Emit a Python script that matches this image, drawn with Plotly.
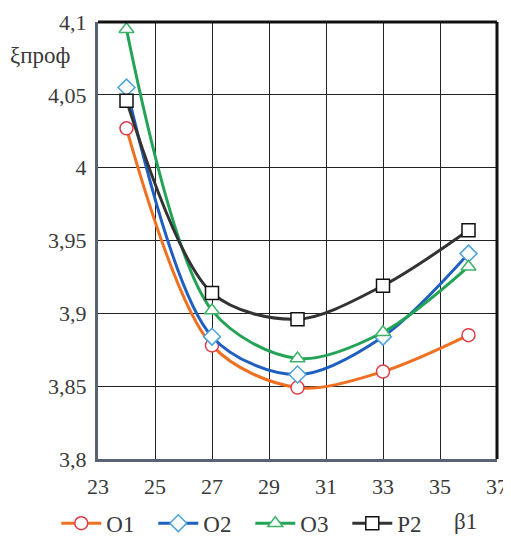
import plotly.graph_objects as go

beta1 = [24, 27, 30, 33, 36]
o1 = [4.027, 3.878, 3.849, 3.860, 3.885]
o2 = [4.055, 3.884, 3.858, 3.884, 3.941]
o3 = [4.095, 3.902, 3.869, 3.887, 3.932]
p2 = [4.046, 3.914, 3.896, 3.919, 3.957]

series_names = ["O1", "O2", "O3", "P2"]
x_ticks = [23, 25, 27, 29, 31, 33, 35, 37]
y_ticks = [3.8, 3.85, 3.9, 3.95, 4.0, 4.05, 4.1]
y_ticktext = ["3,8", "3,85", "3,9", "3,95", "4", "4,05", "4,1"]

styles = [
    dict(line="#f07022", mk="circle", mc="#e03a46"),
    dict(line="#1f5fbf", mk="diamond", mc="#4aa3dc"),
    dict(line="#22a356", mk="triangle-up", mc="#3db36a"),
    dict(line="#333333", mk="square", mc="#111111"),
]

fig = go.Figure()
for name, ys, st in zip(series_names, [o1, o2, o3, p2], styles):
    fig.add_trace(go.Scatter(
        x=beta1, y=ys, name=name, mode="lines+markers", cliponaxis=False,
        line=dict(color=st["line"], width=3, shape="spline", smoothing=0.9),
        marker=dict(symbol=st["mk"], size=13, color="white",
                    line=dict(width=1.5, color=st["mc"])),
    ))

font_family = "Times New Roman"
txt = "#3a3a3a"
fig.update_layout(
    template="none",
    width=503, height=529,
    margin=dict(l=90, r=14, t=14, b=78, autoexpand=False),
    paper_bgcolor="white", plot_bgcolor="white",
    font=dict(family=font_family, size=22, color=txt),
    showlegend=True,
    legend=dict(orientation="h", x=0.096, y=0.026, xref="container", yref="container",
                xanchor="left", yanchor="middle", bgcolor="rgba(0,0,0,0)",
                font=dict(family=font_family, size=23, color=txt),
                itemwidth=40, traceorder="normal", entrywidth=42),
    xaxis=dict(range=[23, 37], tickvals=x_ticks, showgrid=True,
               gridcolor="#222222", gridwidth=1, showline=True, linecolor="#5a6372",
               linewidth=3, zeroline=False, ticks="", ticklabelstandoff=6,
               tickfont=dict(family=font_family, size=22, color=txt)),
    yaxis=dict(range=[3.8, 4.1], tickvals=y_ticks, ticktext=y_ticktext, showgrid=True,
               gridcolor="#222222", gridwidth=1, showline=True, linecolor="#5a6372",
               linewidth=3, zeroline=False, ticks="", ticklabelstandoff=4,
               tickfont=dict(family=font_family, size=22, color=txt)),
    shapes=[
        dict(type="line", xref="paper", yref="paper", x0=0, x1=1, y0=1, y1=1,
             line=dict(color="#111111", width=3)),
        dict(type="line", xref="paper", yref="paper", x0=1, x1=1, y0=0, y1=1,
             line=dict(color="#111111", width=3)),
    ],
    annotations=[
        dict(text="ξпроф", xref="paper", yref="paper", x=-0.145, y=0.924,
             showarrow=False, xanchor="center", yanchor="middle",
             font=dict(family=font_family, size=23, color=txt)),
        dict(text="β1", xref="paper", yref="paper", x=0.92, y=-0.144,
             showarrow=False, xanchor="center", yanchor="middle",
             font=dict(family=font_family, size=23, color=txt)),
    ],
)

fig.write_html("out.html")
